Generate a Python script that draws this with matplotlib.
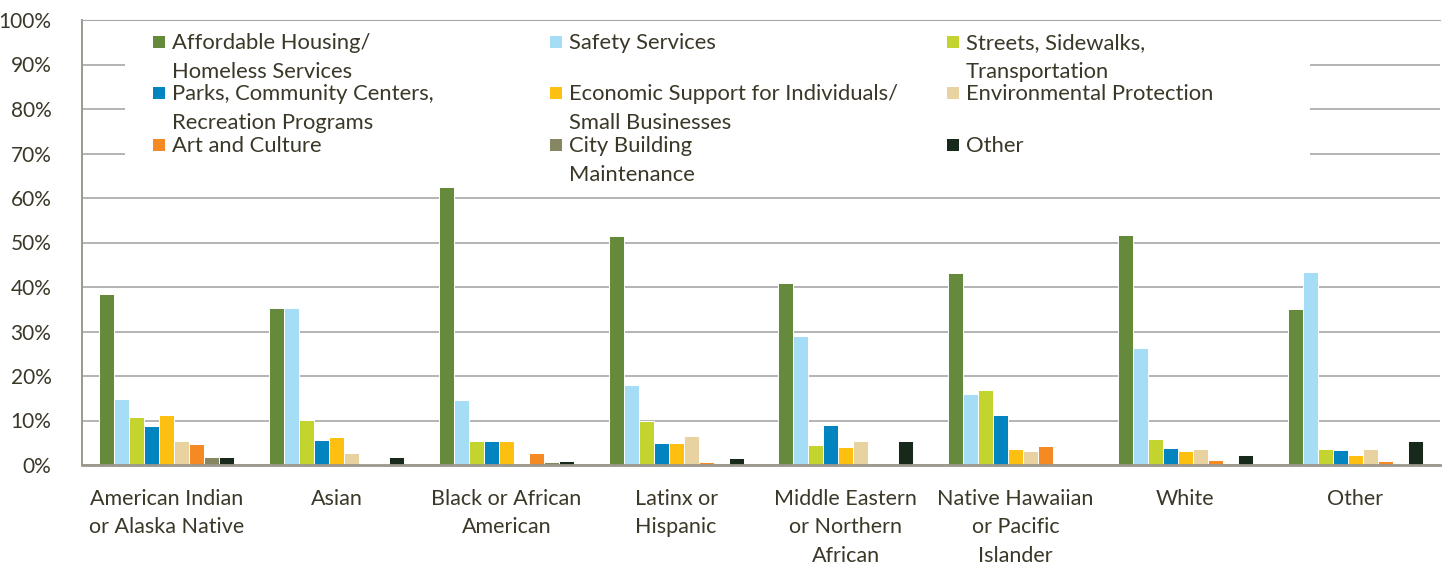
import numpy as np
import matplotlib.pyplot as plt
from matplotlib.patches import Rectangle

# Share of respondents naming each priority, by race/ethnicity (%)
groups = [
    "American Indian\nor Alaska Native",
    "Asian",
    "Black or African\nAmerican",
    "Latinx or\nHispanic",
    "Middle Eastern\nor Northern\nAfrican",
    "Native Hawaiian\nor Pacific\nIslander",
    "White",
    "Other",
]

categories = [
    "Affordable Housing/\nHomeless Services",
    "Safety Services",
    "Streets, Sidewalks,\nTransportation",
    "Parks, Community Centers,\nRecreation Programs",
    "Economic Support for Individuals/\nSmall Businesses",
    "Environmental Protection",
    "Art and Culture",
    "City Building\nMaintenance",
    "Other",
]

colors = ["#658a3b", "#a5dcf6", "#c3d42e", "#0284c0", "#fdc010",
          "#e8d29f", "#f58a25", "#878663", "#17291a"]

housing = [38.4, 35.3, 62.5, 51.5, 40.9, 43.2, 51.6, 35.1]
safety = [14.9, 35.3, 14.5, 17.9, 29.0, 16.0, 26.2, 43.3]
streets = [10.8, 10.1, 5.4, 9.8, 4.4, 16.9, 5.8, 3.7]
parks = [8.8, 5.6, 5.4, 4.9, 8.9, 11.3, 3.9, 3.4]
economic = [11.3, 6.2, 5.4, 4.9, 4.1, 3.6, 3.2, 2.3]
environment = [5.4, 2.7, 0.5, 6.5, 5.4, 3.1, 3.6, 3.7]
art = [4.7, 0.3, 2.7, 0.6, 0.0, 4.3, 1.1, 0.9]
building = [1.9, 0.3, 0.7, 0.0, 0.0, 0.0, 0.0, 0.2]
other = [1.7, 1.7, 1.0, 1.5, 5.3, 0.0, 2.2, 5.4]

series = [housing, safety, streets, parks, economic, environment, art, building, other]

TEXT = "#3b3828"
W, H = 1448, 565

plt.rcParams["font.family"] = ["Lato", "DejaVu Sans"]

fig = plt.figure(figsize=(W / 100, H / 100), dpi=100)
ax = fig.add_axes([82 / W, 1 - 465 / H, 1358 / W, 445 / H])

x = np.arange(len(groups))
bw = 15 / 170
for i, vals in enumerate(series):
    ax.bar(x + (i - 4) * bw, vals, bw, color=colors[i],
           edgecolor="white", linewidth=0.7, zorder=2)

ax.set_xlim(-0.5, len(groups) - 0.5)
ax.set_ylim(0, 100)
ax.set_yticks(np.arange(0, 101, 10))
ax.set_yticklabels([f"{v}%" for v in range(0, 101, 10)], fontsize=15, color=TEXT)
ax.set_xticks(x)
ax.set_xticklabels(groups, fontsize=15.5, color=TEXT, linespacing=1.55)
ax.tick_params(axis="both", length=0)
ax.tick_params(axis="y", pad=22)
ax.tick_params(axis="x", pad=17)

ax.set_axisbelow(True)
ax.grid(axis="y", color="#b3b3b3", linewidth=1.4, zorder=0.5)

ax.spines["right"].set_visible(False)
ax.spines["top"].set_color("#a8a8a8")
ax.spines["left"].set_color("#9c978c")
ax.spines["left"].set_linewidth(1.4)
ax.spines["bottom"].set_color("#9c978c")
ax.spines["bottom"].set_linewidth(2)

# white legend area: above the gridlines, below the bars
ax.add_patch(Rectangle((125 / W, 1 - 192 / H), 1185 / W, 168 / H,
                       transform=fig.transFigure, facecolor="white",
                       edgecolor="none", zorder=1, clip_on=False))

col_x = [153, 550, 947]
row_base = [49, 100, 152]
line_gap = 28.7
for i, label in enumerate(categories):
    cx = col_x[i % 3]
    by = row_base[i // 3]
    fig.patches.append(Rectangle((cx / W, 1 - (by - 1) / H), 12 / W, 12 / H,
                                 transform=fig.transFigure, facecolor=colors[i],
                                 edgecolor="none", zorder=3))
    for k, line in enumerate(label.split("\n")):
        fig.text((cx + 19) / W, 1 - (by + k * line_gap) / H, line,
                 fontsize=15.8, color=TEXT, va="baseline", ha="left", zorder=3)

fig.savefig("out.png", dpi=100)
